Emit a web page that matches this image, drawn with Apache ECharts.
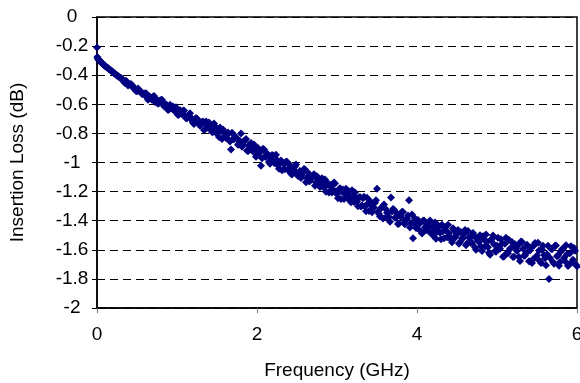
<!DOCTYPE html>
<html>
<head>
<meta charset="utf-8">
<script src="https://cdn.jsdelivr.net/npm/echarts@6/dist/echarts.min.js"></script>
<style>
html,body{margin:0;padding:0;background:#fff;}
#chart{width:580px;height:383px;}
</style>
</head>
<body>
<div id="chart"></div>
<script>
// Sweep A: frequency (GHz) of each measured point
const freqGHzA = [
  0, 0.005, 0.01, 0.02, 0.03, 0.04, 0.05, 0.06, 0.07, 0.08, 0.09, 0.1, 0.12, 0.14, 0.16, 0.18, 0.2, 0.22, 0.24, 0.26, 0.28, 0.3,
  0.325, 0.35, 0.375, 0.4, 0.425, 0.45, 0.475, 0.5, 0.525, 0.55, 0.575, 0.6,
  0.625, 0.65, 0.675, 0.7, 0.725, 0.75, 0.775, 0.8, 0.825, 0.85, 0.875, 0.9, 0.925, 0.95, 0.975, 1.0,
  1.025, 1.05, 1.075, 1.1, 1.125, 1.15, 1.175, 1.2, 1.225, 1.25, 1.275, 1.3,
  1.325, 1.35, 1.375, 1.4, 1.425, 1.45, 1.475, 1.5, 1.525, 1.55, 1.575, 1.6, 1.625, 1.65, 1.675, 1.7, 1.725, 1.75, 1.775, 1.8,
  1.825, 1.85, 1.875, 1.9, 1.925, 1.95, 1.975, 2.0, 2.025, 2.05, 2.075, 2.1, 2.125, 2.15, 2.175, 2.2, 2.225, 2.25, 2.275, 2.3,
  2.325, 2.35, 2.375, 2.4, 2.425, 2.45, 2.475, 2.5, 2.525, 2.55, 2.575, 2.6, 2.625, 2.65, 2.675, 2.7, 2.725, 2.75, 2.775, 2.8,
  2.825, 2.85, 2.875, 2.9, 2.925, 2.95, 2.975, 3.0, 3.025, 3.05, 3.075, 3.1, 3.125, 3.15, 3.175, 3.2, 3.225, 3.25, 3.275, 3.3,
  3.325, 3.35, 3.375, 3.4, 3.425, 3.45, 3.475, 3.5, 3.525, 3.55, 3.575, 3.6, 3.625, 3.65, 3.675, 3.7, 3.725, 3.75, 3.775, 3.8,
  3.825, 3.85, 3.875, 3.9, 3.925, 3.95, 3.975, 4.0, 4.025, 4.05, 4.075, 4.1, 4.125, 4.15,
  4.175, 4.2, 4.225, 4.25, 4.275, 4.3, 4.325, 4.35, 4.375, 4.4, 4.425, 4.45, 4.475, 4.5, 4.525, 4.55, 4.575, 4.6, 4.625, 4.65,
  4.675, 4.7, 4.725, 4.75, 4.775, 4.8,
  4.825, 4.85, 4.875, 4.9, 4.925, 4.95, 4.975, 5.0, 5.025, 5.05, 5.075, 5.1, 5.125, 5.15, 5.175, 5.2, 5.225, 5.25, 5.275, 5.3,
  5.325, 5.35, 5.375, 5.4,
  5.425, 5.45, 5.475, 5.5, 5.525, 5.55, 5.575, 5.6, 5.625, 5.65, 5.675, 5.7, 5.725, 5.75, 5.775, 5.8, 5.825, 5.85, 5.875, 5.9,
  5.925, 5.95, 5.975, 6.0
];
// Sweep A: insertion loss (dB)
const lossDBA = [
  -0.21, -0.275, -0.285, -0.292, -0.300, -0.305, -0.31, -0.316, -0.322, -0.326, -0.331, -0.335, -0.345, -0.352, -0.362, -0.370, -0.380, -0.388, -0.397, -0.404, -0.414, -0.42,
  -0.432, -0.453, -0.448, -0.464, -0.461, -0.487, -0.490, -0.510, -0.501, -0.513, -0.530, -0.525,
  -0.554, -0.547, -0.560, -0.548, -0.585, -0.568, -0.591, -0.570, -0.587, -0.610, -0.611, -0.635, -0.618, -0.615, -0.648, -0.641,
  -0.670, -0.649, -0.644, -0.679, -0.696, -0.673, -0.693, -0.727, -0.702, -0.699, -0.733, -0.730,
  -0.719, -0.771, -0.743, -0.725, -0.773, -0.790, -0.751, -0.782, -0.824, -0.781, -0.774, -0.822, -0.811, -0.846, -0.91, -0.841, -0.820, -0.837, -0.871, -0.80,
  -0.88, -0.851, -0.918, -0.882, -0.866, -0.925, -0.909, -0.948, -0.912, -1.023, -0.906, -0.958, -0.938, -0.997, -0.973, -0.952, -1.004, -0.983, -1.043, -0.986,
  -1.001, -1.047, -0.994, -1.04, -1.078, -1.037, -1.028, -1.078, -1.069, -1.107, -1.062, -1.048, -1.107, -1.129, -1.10, -1.09, -1.16, -1.095, -1.142, -1.136,
  -1.169, -1.117, -1.155, -1.207, -1.155, -1.188, -1.145, -1.219, -1.185, -1.25, -1.185, -1.218, -1.243, -1.20, -1.273, -1.235, -1.206, -1.27, -1.241, -1.302,
  -1.246, -1.302, -1.243, -1.334, -1.29, -1.311, -1.277, -1.18, -1.354, -1.315, -1.385, -1.315, -1.345, -1.375, -1.24, -1.32, -1.38, -1.35, -1.42, -1.375,
  -1.34, -1.425, -1.385, -1.26, -1.415, -1.52, -1.385, -1.45, -1.41, -1.475, -1.40, -1.445, -1.425, -1.475,
  -1.438, -1.502, -1.412, -1.476, -1.441, -1.528, -1.472, -1.443, -1.513, -1.488, -1.53, -1.452, -1.517, -1.482, -1.558, -1.479, -1.52, -1.464, -1.556, -1.516,
  -1.553, -1.485, -1.582, -1.526, -1.546, -1.578,
  -1.507, -1.576, -1.546, -1.621, -1.533, -1.502, -1.609, -1.573, -1.589, -1.527, -1.647, -1.559, -1.62, -1.533, -1.588, -1.649, -1.561, -1.609, -1.65, -1.543,
  -1.592, -1.64, -1.565, -1.678,
  -1.586, -1.665, -1.554, -1.639, -1.605, -1.691, -1.573, -1.658, -1.631, -1.80, -1.592, -1.684, -1.573, -1.645, -1.709, -1.612, -1.592, -1.678, -1.63, -1.701,
  -1.576, -1.669, -1.607, -1.713
];
// Sweep B: in-between frequencies (GHz)
const freqGHzB = [
  0.015, 0.025, 0.035, 0.045, 0.055, 0.065, 0.075, 0.085, 0.095, 0.11, 0.13, 0.15, 0.17, 0.19, 0.21, 0.23, 0.25, 0.27, 0.29, 0.31,
  0.3375, 0.3625, 0.3875, 0.4125, 0.4375, 0.4625, 0.4875, 0.5125, 0.5375, 0.5625, 0.5875,
  0.6125, 0.6375, 0.6625, 0.6875, 0.7125, 0.7375, 0.7625, 0.7875, 0.8125, 0.8375, 0.8625, 0.8875, 0.9125, 0.9375, 0.9625, 0.9875,
  1.0125, 1.0375, 1.0625, 1.0875, 1.1125, 1.1375, 1.1625, 1.1875, 1.2125, 1.2375, 1.2625, 1.2875,
  1.3125, 1.3375, 1.3625, 1.3875, 1.4125, 1.4375, 1.4625, 1.4875, 1.5125, 1.5375, 1.5625, 1.5875, 1.6125, 1.6375, 1.6625, 1.6875, 1.7125, 1.7375, 1.7625, 1.7875,
  1.8125, 1.8375, 1.8625, 1.8875, 1.9125, 1.9375, 1.9625, 1.9875, 2.0125, 2.0375, 2.0625, 2.0875, 2.1125, 2.1375, 2.1625, 2.1875, 2.2125, 2.2375, 2.2625, 2.2875,
  2.3125, 2.3375, 2.3625, 2.3875, 2.4125, 2.4375, 2.4625, 2.4875, 2.5125, 2.5375, 2.5625, 2.5875, 2.6125, 2.6375, 2.6625, 2.6875, 2.7125, 2.7375, 2.7625, 2.7875,
  2.8125, 2.8375, 2.8625, 2.8875, 2.9125, 2.9375, 2.9625, 2.9875, 3.0125, 3.0375, 3.0625, 3.0875, 3.1125, 3.1375, 3.1625, 3.1875, 3.2125, 3.2375, 3.2625, 3.2875,
  3.3125, 3.3375, 3.3625, 3.3875, 3.4125, 3.4375, 3.4625, 3.4875, 3.5125, 3.5375, 3.5625, 3.5875, 3.6125, 3.6375, 3.6625, 3.6875, 3.7125, 3.7375, 3.7625, 3.7875,
  3.8125, 3.8375, 3.8625, 3.8875, 3.9125, 3.9375, 3.9625, 3.9875, 4.0125, 4.0375, 4.0625, 4.0875, 4.1125, 4.1375,
  4.1625, 4.1875, 4.2125, 4.2375, 4.2625, 4.2875, 4.3125, 4.3375, 4.3625, 4.3875, 4.4125, 4.4375, 4.4625, 4.4875, 4.5125, 4.5375, 4.5625, 4.5875, 4.6125, 4.6375,
  4.6625, 4.6875, 4.7125, 4.7375, 4.7625, 4.7875,
  4.8125, 4.8375, 4.8625, 4.8875, 4.9125, 4.9375, 4.9625, 4.9875, 5.0125, 5.0375, 5.0625, 5.0875, 5.1125, 5.1375, 5.1625, 5.1875, 5.2125, 5.2375, 5.2625, 5.2875,
  5.3125, 5.3375, 5.3625, 5.3875,
  5.4125, 5.4375, 5.4625, 5.4875, 5.5125, 5.5375, 5.5625, 5.5875, 5.6125, 5.6375, 5.6625, 5.6875, 5.7125, 5.7375, 5.7625, 5.7875, 5.8125, 5.8375, 5.8625, 5.8875,
  5.9125, 5.9375, 5.9625, 5.9875
];
// Sweep B: insertion loss (dB)
const lossDBB = [
  -0.289, -0.297, -0.303, -0.307, -0.313, -0.319, -0.325, -0.328, -0.334, -0.340, -0.349, -0.357, -0.366, -0.375, -0.385, -0.391, -0.403, -0.409, -0.418, -0.428,
  -0.447, -0.439, -0.471, -0.464, -0.469, -0.489, -0.509, -0.491, -0.511, -0.530, -0.525,
  -0.524, -0.568, -0.548, -0.569, -0.543, -0.575, -0.597, -0.574, -0.569, -0.613, -0.600, -0.639, -0.603, -0.628, -0.642, -0.621,
  -0.673, -0.641, -0.669, -0.643, -0.696, -0.681, -0.662, -0.711, -0.736, -0.695, -0.711, -0.748,
  -0.721, -0.776, -0.718, -0.761, -0.739, -0.790, -0.732, -0.795, -0.785, -0.760, -0.838, -0.797, -0.831, -0.794, -0.856, -0.795, -0.841, -0.828, -0.878, -0.853,
  -0.891, -0.853, -0.839, -0.922, -0.890, -0.915, -0.877, -0.961, -0.901, -0.931, -0.971, -0.910, -0.963, -0.947, -1.009, -0.949, -1.002, -0.946, -1.021, -0.997,
  -1.053, -1.011, -0.994, -1.051, -1.017, -1.082, -1.052, -1.014, -1.092, -1.058, -1.087, -1.045, -1.136, -1.071, -1.127, -1.106, -1.081, -1.138, -1.112, -1.169,
  -1.108, -1.165, -1.201, -1.143, -1.164, -1.206, -1.137, -1.199, -1.245, -1.177, -1.198, -1.25, -1.181, -1.248, -1.234, -1.191, -1.272, -1.239, -1.30, -1.237,
  -1.295, -1.235, -1.335, -1.28, -1.264, -1.342, -1.309, -1.26, -1.338, -1.371, -1.305, -1.288, -1.376, -1.342, -1.408, -1.336, -1.324, -1.379, -1.422, -1.361,
  -1.338, -1.415, -1.393, -1.365, -1.447, -1.358, -1.418, -1.451, -1.395, -1.417, -1.488, -1.399, -1.465, -1.442,
  -1.398, -1.486, -1.448, -1.524, -1.431, -1.483, -1.427, -1.521, -1.465, -1.427, -1.514, -1.548, -1.468, -1.502, -1.464, -1.546, -1.52, -1.493, -1.569, -1.471,
  -1.517, -1.551, -1.501, -1.60, -1.538, -1.50,
  -1.608, -1.527, -1.494, -1.582, -1.634, -1.524, -1.561, -1.614, -1.518, -1.592, -1.559, -1.646, -1.517, -1.624, -1.593, -1.547, -1.648, -1.588, -1.569, -1.677,
  -1.547, -1.641, -1.623, -1.577,
  -1.605, -1.69, -1.571, -1.654, -1.551, -1.679, -1.598, -1.636, -1.706, -1.572, -1.656, -1.596, -1.696, -1.57, -1.638, -1.684, -1.596, -1.657, -1.568, -1.712,
  -1.624, -1.685, -1.588, -1.702
];
const xTicks = [0, 2, 4, 6];
const yTicks = [0, -0.2, -0.4, -0.6, -0.8, -1, -1.2, -1.4, -1.6, -1.8, -2];

const points = freqGHzA.map((f, i) => [f, lossDBA[i]])
  .concat(freqGHzB.map((f, i) => [f, lossDBB[i]]));
const font = 'Liberation Sans, Arial, sans-serif';

const chart = echarts.init(document.getElementById('chart'), null, {renderer: 'canvas'});
chart.setOption({
  animation: false,
  backgroundColor: '#fff',
  grid: {left: 97, right: 3, top: 17, bottom: 75, show: true, borderColor: '#000', borderWidth: 1.5,
    containLabel: false, outerBoundsMode: 'none'},
  xAxis: {
    type: 'value', min: 0, max: 6, interval: 2,
    name: 'Frequency (GHz)', nameLocation: 'middle', nameGap: 53,
    nameTextStyle: {fontFamily: font, fontSize: 19, color: '#000'},
    axisLine: {show: true, onZero: false, lineStyle: {color: '#000', width: 1.5}},
    axisTick: {show: true, inside: false, length: 5, lineStyle: {color: '#777', width: 1}},
    axisLabel: {margin: 17, fontFamily: font, fontSize: 19, color: '#000',
      formatter: v => xTicks.includes(v) ? String(v) : ''},
    splitLine: {show: false}
  },
  yAxis: {
    type: 'value', min: -2, max: 0, interval: 0.2,
    name: 'Insertion Loss (dB)', nameLocation: 'middle', nameGap: 70, nameRotate: 90,
    nameTextStyle: {fontFamily: font, fontSize: 19, color: '#000'},
    axisLine: {show: true, onZero: false, lineStyle: {color: '#000', width: 1.5}},
    axisTick: {show: true, inside: false, length: 5, lineStyle: {color: '#000', width: 1}},
    axisLabel: {margin: 25, align: 'center', fontFamily: font, fontSize: 19, color: '#000',
      formatter: v => {
        const r = Math.round(v * 10) / 10;
        return yTicks.includes(r) ? String(r) : '';
      }},
    splitLine: {show: true, lineStyle: {color: '#000', width: 1, type: [8, 5]}}
  },
  series: [{
    type: 'scatter',
    data: points,
    symbol: 'diamond',
    symbolSize: 8,
    clip: true,
    itemStyle: {color: '#000080', opacity: 1}
  }]
});
</script>
</body>
</html>
